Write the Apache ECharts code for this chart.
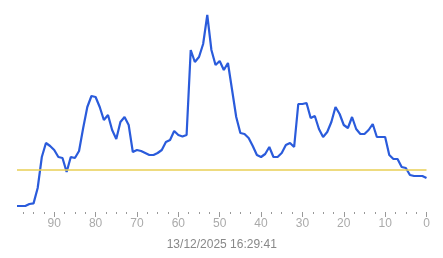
<!DOCTYPE html>
<html><head><meta charset="utf-8">
<script src="https://cdn.jsdelivr.net/npm/echarts@6/dist/echarts.min.js"></script>
<style>html,body{margin:0;padding:0;background:#fff}#c{width:443px;height:258px}</style>
</head><body><div id="c"></div>
<script>
// x positions (seconds ago), 99 .. 0
const xs = [99,98,97,96,95,94,93,92,91,90,89,88,87,86,85,84,83,82,81,80,79,78,77,76,75,74,73,72,71,70,69,68,67,66,65,64,63,62,61,60,59,58,57,56,55,54,53,52,51,50,49,48,47,46,45,44,43,42,41,40,39,38,37,36,35,34,33,32,31,30,29,28,27,26,25,24,23,22,21,20,19,18,17,16,15,14,13,12,11,10,9,8,7,6,5,4,3,2,1,0];
const values = [3,3,3,4,4.3,12,27.5,34.5,33,31,27.5,27,20,27.5,27,30.5,42,52.5,58,57.5,52.5,46,48.5,41,36.5,45,47.5,43.5,30,31,30.5,29.5,28.5,28.5,29.5,31,35,36,40.5,38.5,37.75,38.5,81,75,77.5,84,98.5,81,73.5,75.5,71,74.5,61,47.5,39.5,39,37,33,28.5,27.5,29,32.5,27.5,27.5,29.5,33.5,34.5,32.5,54,54,54.5,47,48,41.5,37.5,40,45,52.5,49,43.5,42,47.5,41.5,39,39,41,44,37.5,37.5,37.5,28.5,26.5,26.5,22.5,22,18.5,18,18,18,17];
const threshold = 21.25;
const majorTicks = [0,10,20,30,40,50,60,70,80,90];
const minorTicks = [2.5,5,7.5,12.5,15,17.5,22.5,25,27.5,32.5,35,37.5,42.5,45,47.5,52.5,55,57.5,62.5,65,67.5,72.5,75,77.5,82.5,85,87.5,92.5,95,97.5];
const timestamp = '13/12/2025 16:29:41';

const chart = echarts.init(document.getElementById('c'), null, {renderer:'canvas'});
const baseX = {type:'value', min:0, max:99, inverse:true, position:'bottom',
  splitLine:{show:false}, axisLine:{show:false}};
chart.setOption({
  animation:false,
  grid:{left:17, right:16.5, top:12, bottom:46},
  xAxis:[
    Object.assign({}, baseX, {
      axisTick:{show:true, customValues:majorTicks, length:5, lineStyle:{color:'#999'}},
      axisLabel:{show:true, customValues:majorTicks, margin:6, color:'#aaa', fontSize:12, fontFamily:'Liberation Sans'},
      name:timestamp, nameLocation:'middle', nameGap:27,
      nameTextStyle:{color:'#888', fontSize:12, fontFamily:'Liberation Sans'}
    }),
    Object.assign({}, baseX, {
      axisTick:{show:true, customValues:minorTicks, length:2, lineStyle:{color:'#999'}},
      axisLabel:{show:false}
    })
  ],
  yAxis:{type:'value', min:0, max:100, show:false, splitLine:{show:false}},
  series:[{
    type:'line', xAxisIndex:0, data:xs.map((x,i)=>[x, values[i]]),
    symbol:'none', lineStyle:{color:'#2a5bdb', width:2.2}, itemStyle:{color:'#2a5bdb'},
    markLine:{silent:true, symbol:'none', label:{show:false},
      emphasis:{disabled:true},
      lineStyle:{color:'#e8cf55', width:1.5, type:'solid', opacity:1},
      data:[{yAxis:threshold}]}
  }]
});
</script></body></html>
